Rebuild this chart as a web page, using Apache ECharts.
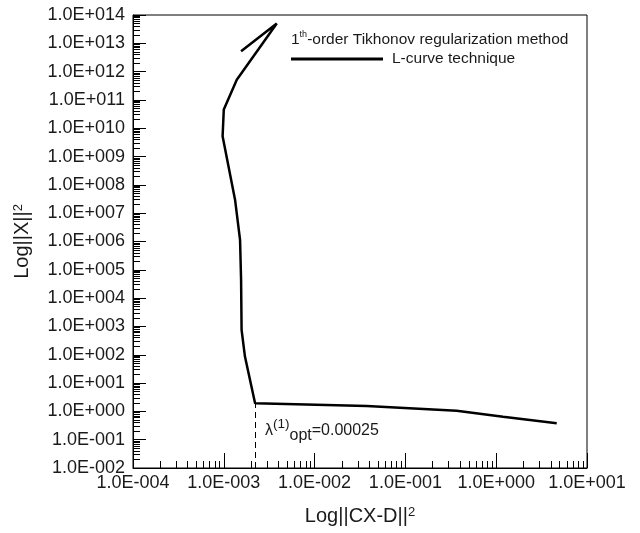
<!DOCTYPE html>
<html>
<head>
<meta charset="utf-8">
<script src="https://cdn.jsdelivr.net/npm/echarts@6/dist/echarts.min.js"></script>
<style>
  html, body { margin: 0; padding: 0; background: #fff; }
  #chart { width: 640px; height: 533px; }
</style>
</head>
<body>
<div id="chart"></div>
<script>
// L-curve points: residual norm (x) vs solution norm (y)
var residualNorm = [1.55e-3, 3.83e-3, 1.39e-3, 1.0e-3, 9.7e-4, 1.33e-3, 1.51e-3, 1.55e-3, 1.57e-3, 1.71e-3, 2.21e-3, 0.0375, 0.367, 1.19, 4.64];
var solutionNorm = [5.2e12, 5.0e13, 5.2e11, 4.6e10, 5.2e9, 3.0e7, 1.15e6, 4.4e4, 760, 86, 1.94, 1.56, 1.06, 0.65, 0.38];

// corner of the curve (optimal lambda)
var cornerX = 2.21e-3;
var cornerY = 1.94;

var xRange = [1e-4, 1e1];
var yRange = [1e-2, 1e14];

var font = 'Liberation Sans, Arial, sans-serif';

function sci(v) {
    var e = Math.round(Math.log(v) / Math.LN10);
    return '1.0E' + (e < 0 ? '-' : '+') + String(Math.abs(e)).padStart(3, '0');
}

var curve = [];
for (var i = 0; i < residualNorm.length; i++) {
    curve.push([residualNorm[i], solutionNorm[i]]);
}

var myChart = echarts.init(document.getElementById('chart'));

var axisCommon = {
    type: 'log',
    logBase: 10,
    interval: 1,
    axisLine: { show: true, lineStyle: { color: '#000', width: 1 } },
    axisTick: { show: true, inside: true, lineStyle: { color: '#000', width: 1 } },
    minorTick: { show: true, splitNumber: 9, length: 7, lineStyle: { color: '#000', width: 1 } },
    splitLine: { show: false },
    minorSplitLine: { show: false },
    axisLabel: { color: '#1a1a1a', fontSize: 18, fontFamily: font, formatter: sci },
    nameLocation: 'middle',
    nameTextStyle: {
        fontFamily: font,
        rich: {
            a: { fontSize: 20, color: '#1a1a1a', fontFamily: font },
            sup: { fontSize: 13, color: '#1a1a1a', fontFamily: font, verticalAlign: 'top' }
        }
    }
};

option = {
    animation: false,
    backgroundColor: '#fff',
    grid: {
        left: 133,
        right: 53,
        top: 15,
        bottom: 65,
        show: true,
        borderColor: '#000',
        borderWidth: 1,
        containLabel: false
    },
    xAxis: echarts.util.merge({
        min: xRange[0],
        max: xRange[1],
        name: '{a|Log||CX-D||}{sup|2}',
        nameGap: 38,
        axisTick: { length: 15 },
        axisLabel: { margin: 6 }
    }, axisCommon),
    yAxis: echarts.util.merge({
        min: yRange[0],
        max: yRange[1],
        name: '{a|Log||X||}{sup|2}',
        nameGap: 101,
        axisTick: { length: 13 },
        axisLabel: { margin: 8 }
    }, axisCommon),
    legend: {
        left: 291,
        top: 51,
        padding: 0,
        icon: 'rect',
        itemWidth: 92,
        itemHeight: 3,
        textStyle: { fontSize: 15.5, color: '#1a1a1a', fontFamily: font, padding: [0, 0, 0, 4] },
        data: ['L-curve technique']
    },
    graphic: [
        {
            type: 'text',
            left: 291,
            top: 30,
            style: {
                text: '{n|1}{s|th}{n|-order Tikhonov regularization method}',
                rich: {
                    n: { fontSize: 15.5, fontFamily: font, fill: '#1a1a1a', lineHeight: 20 },
                    s: { fontSize: 9, fontFamily: font, fill: '#1a1a1a', lineHeight: 13, verticalAlign: 'top' }
                }
            }
        },
        {
            type: 'text',
            left: 265,
            top: 417,
            style: {
                text: '{a|λ}{p|(1)}{b|opt}{a|=0.00025}',
                rich: {
                    a: { fontSize: 16, fontFamily: font, fill: '#1a1a1a', lineHeight: 26.5 },
                    p: { fontSize: 13.5, fontFamily: font, fill: '#1a1a1a', lineHeight: 16, verticalAlign: 'top' },
                    b: { fontSize: 16, fontFamily: font, fill: '#1a1a1a', lineHeight: 17, verticalAlign: 'bottom' }
                }
            }
        }
    ],
    series: [
        {
            name: 'L-curve technique',
            type: 'line',
            data: curve,
            symbol: 'none',
            smooth: false,
            color: '#000',
            lineStyle: { color: '#000', width: 2.5 },
            markLine: {
                silent: true,
                symbol: 'none',
                label: { show: false },
                lineStyle: { color: '#000', width: 1, type: [6, 4] },
                data: [
                    [{ coord: [cornerX, yRange[0]] }, { coord: [cornerX, cornerY] }]
                ]
            }
        }
    ]
};

myChart.setOption(option);
</script>
</body>
</html>
